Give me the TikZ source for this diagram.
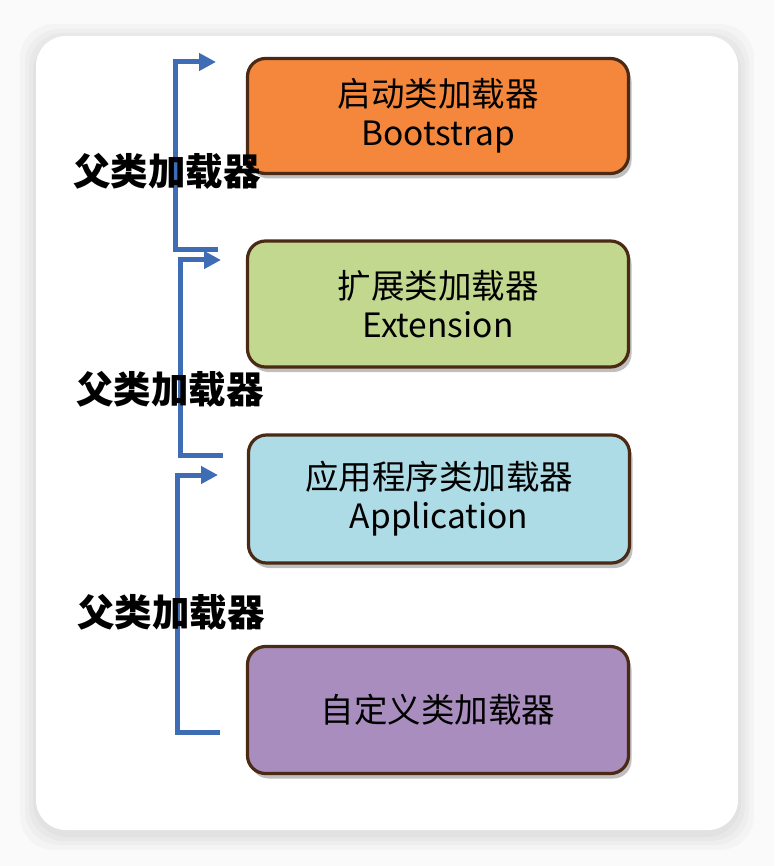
\documentclass[tikz,border=0pt]{standalone}
\usepackage{fontspec}
\newfontfamily\cjk{Noto Sans CJK SC}
\usepackage{tikz}
\usetikzlibrary{arrows.meta,shadows}

\definecolor{linkblue}{HTML}{3F6DB5}
\definecolor{boxedge}{HTML}{4A2A14}
\definecolor{bootfill}{HTML}{F4873B}
\definecolor{extfill}{HTML}{C3D88F}
\definecolor{appfill}{HTML}{AEDCE6}
\definecolor{userfill}{HTML}{A98DBE}

\tikzset{
    loaderbox/.style={draw=boxedge, line width=3.2pt, rounded corners=18pt,
        minimum width=381pt, inner sep=0pt, align=center,
        font=\cjk\fontsize{33.5}{39}\selectfont,
        drop shadow={shadow xshift=3pt, shadow yshift=-5pt, opacity=0.25, fill=black}},
    parentlabel/.style={font=\cjk\bfseries\fontsize{37.5}{40}\selectfont, inner sep=0pt},
    bracket/.style={draw=linkblue, line width=5pt},
}

\begin{document}
\begin{tikzpicture}[x=1pt, y=-1pt, >=Stealth, thick]
    \useasboundingbox (0,0) rectangle (774,866);

    % Card
    \fill[black!2] (0,0) rectangle (774,866);
    \foreach \s in {16,11,7,3}
        \fill[black, opacity=0.025, rounded corners=34pt] (36-\s,36-\s+4) rectangle (738+\s,830+\s+4);
    \fill[white, rounded corners=30pt] (36,36) rectangle (738,830);

    % Loader boxes
    \node[loaderbox, fill=bootfill, minimum height=115pt] (boot) at (438,116) {启动类加载器\\Bootstrap};
    \node[loaderbox, fill=extfill, minimum height=126pt] (ext) at (438,304) {扩展类加载器\\Extension};
    \node[loaderbox, fill=appfill, minimum height=128pt] (app) at (439,499) {应用程序类加载器\\Application};
    \node[loaderbox, fill=userfill, minimum height=127pt] (user) at (438,710) {自定义类加载器};

    % Parent links
    \coordinate (top1) at (175,62);   \coordinate (tip1) at (216,62);  \coordinate (end1) at (218,250);
    \coordinate (top2) at (180,260);  \coordinate (tip2) at (221,260); \coordinate (end2) at (223,455);
    \coordinate (top3) at (177,475);  \coordinate (tip3) at (218,475); \coordinate (end3) at (220,732);
    \foreach \i in {1,2,3}
        \draw[bracket, -{Triangle[length=17pt,width=17pt]}] (end\i) -| (top\i) -- (tip\i);

    % Labels
    \node[parentlabel] (par1) at (167,171) {父类加载器};
    \node[parentlabel] (par2) at (170,389) {父类加载器};
    \node[parentlabel] (par3) at (171,612) {父类加载器};
\end{tikzpicture}
\end{document}
